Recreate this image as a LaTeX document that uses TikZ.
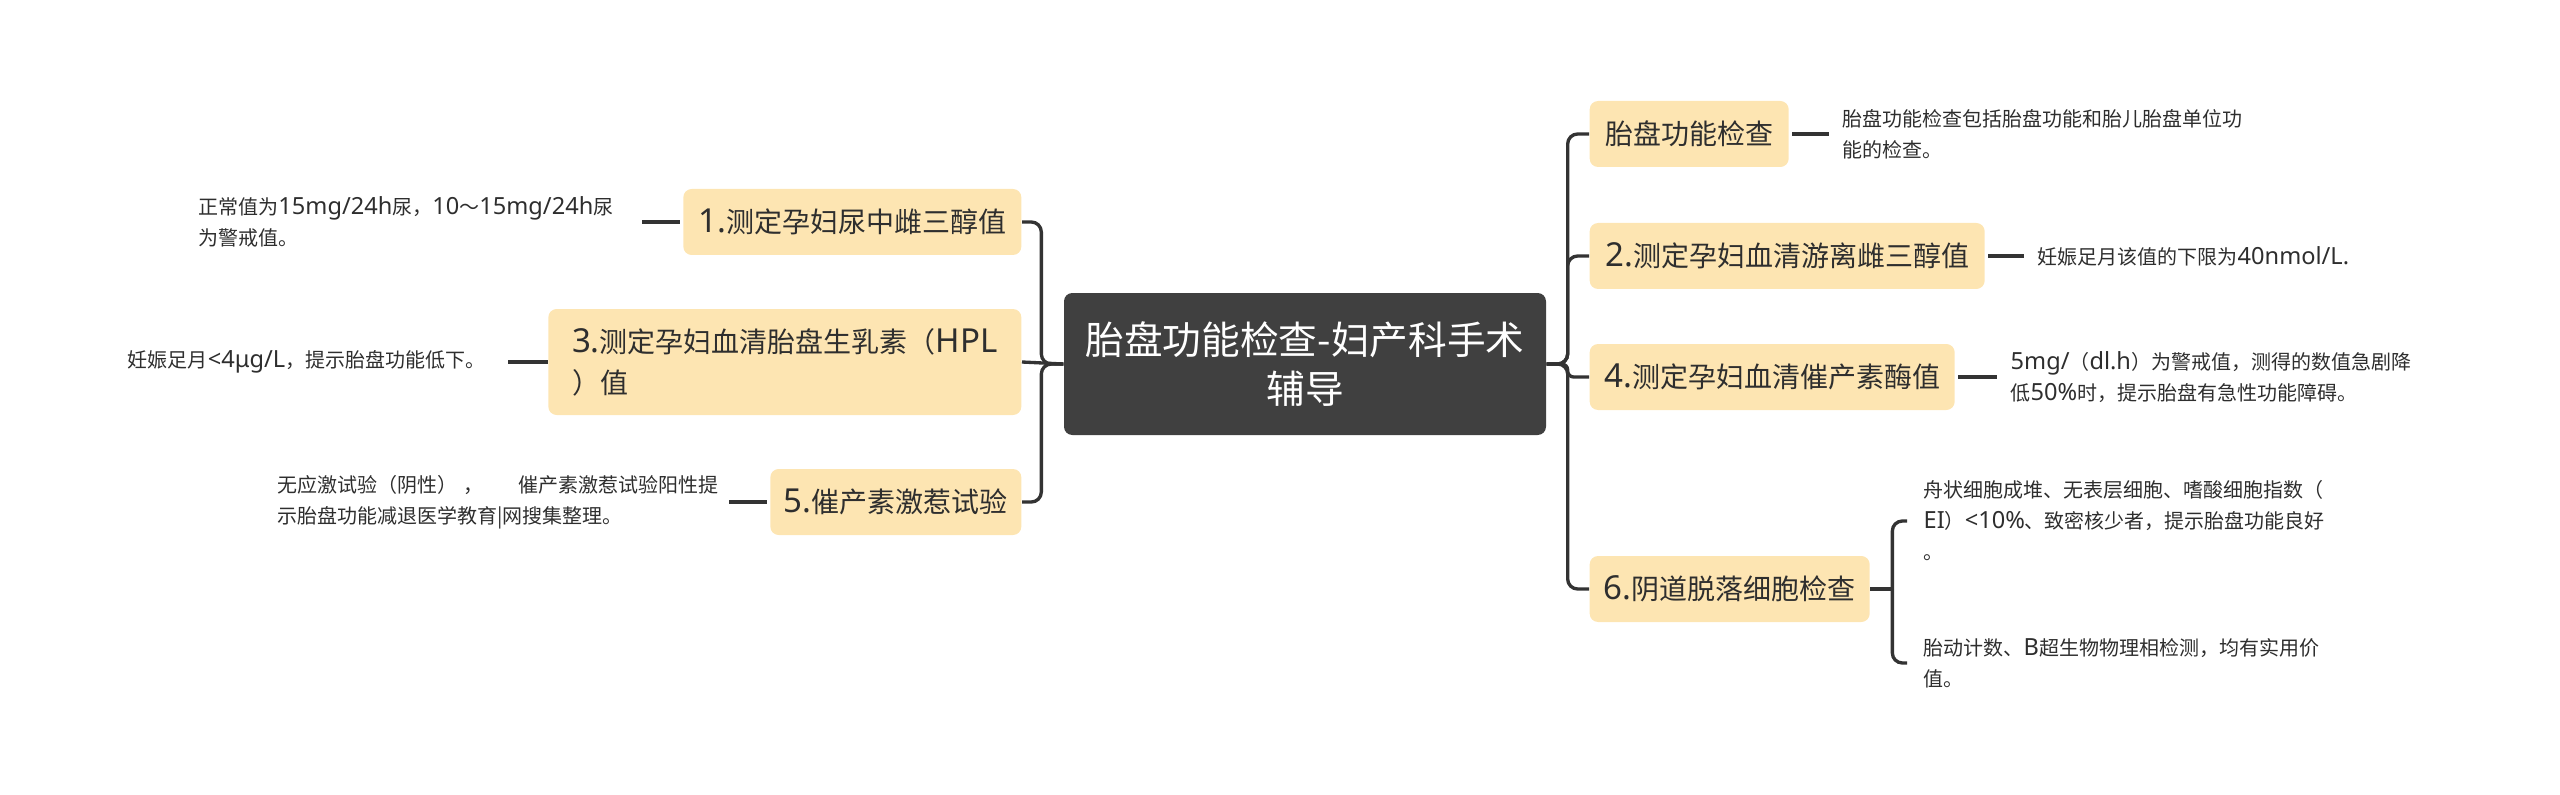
\documentclass[tikz,border=0pt]{standalone}
\usepackage{fontspec}
\newfontfamily\cjk{Noto Sans CJK SC}
\newfontfamily\lat[Scale=1.18]{Noto Sans}
\newcommand{\la}[1]{{\lat #1}}
\usetikzlibrary{calc}
\definecolor{boxfill}{HTML}{FDE5B2}
\definecolor{rootfill}{HTML}{404040}
\definecolor{linec}{HTML}{333333}
\definecolor{txt}{HTML}{2E2E2E}
\begin{document}
\begin{tikzpicture}[x=0.3pt,y=-0.3pt,
  root/.style={rectangle, rounded corners=2.5pt, fill=rootfill, text=white,
    font=\cjk\fontsize{11.6pt}{14.7pt}\selectfont, inner sep=0pt,
    minimum width=144.6pt, minimum height=42.6pt, align=center},
  topic/.style={rectangle, rounded corners=2.5pt, fill=boxfill, text=txt,
    font=\cjk\fontsize{8.4pt}{12.3pt}\selectfont, inner sep=0pt,
    minimum height=19.8pt, align=left},
  leaf/.style={inner sep=0pt, text=txt, font=\cjk\fontsize{6pt}{9.3pt}\selectfont, align=left},
  link/.style={draw=linec, line width=1pt, rounded corners=3pt}]
\useasboundingbox (0,0) rectangle (2560,795);

% root
\node[root] (root) at (1305,364) {胎盘功能检查-妇产科手术\\辅导};

% right topics
\node[topic, anchor=west, minimum width=59.7pt] (r1) at (1589,134) {胎盘功能检查};
\node[topic, anchor=west, minimum width=118.5pt] (r2) at (1589,256) {\la{2.}测定孕妇血清游离雌三醇值};
\node[topic, anchor=west, minimum width=109.5pt] (r4) at (1589,377) {\la{4.}测定孕妇血清催产素酶值};
\node[topic, anchor=west, minimum width=84pt] (r6) at (1589,589) {\la{6.}阴道脱落细胞检查};

% left topics
\node[topic, anchor=east, minimum width=101.4pt] (l1) at (1022,222) {\la{1.}测定孕妇尿中雌三醇值};
\node[topic, anchor=east, minimum width=141.9pt, minimum height=31.8pt] (l3) at (1022,362) {\la{3.}测定孕妇血清胎盘生乳素（\la{HPL}\\）值};
\node[topic, anchor=east, minimum width=75.3pt] (l5) at (1022,502) {\la{5.}催产素激惹试验};

% right leaves
\node[leaf, anchor=west] (t1) at (1842,134) {胎盘功能检查包括胎盘功能和胎儿胎盘单位功\\能的检查。};
\node[leaf, anchor=west] (t2) at (2037,256) {妊娠足月该值的下限为\la{40nmol/L.}};
\node[leaf, anchor=west] (t4) at (2010,377) {\la{5mg/}（\la{dl.h}）为警戒值，测得的数值急剧降\\低\la{50\%}时，提示胎盘有急性功能障碍。};
\node[leaf, anchor=west] (t6a) at (1923,521) {舟状细胞成堆、无表层细胞、嗜酸细胞指数（\\\la{EI}）\la{<10\%}、致密核少者，提示胎盘功能良好\\。};
\node[leaf, anchor=west] (t6b) at (1923,663) {胎动计数、\la{B}超生物物理相检测，均有实用价\\值。};

% left leaves
\node[leaf, anchor=east] (s1) at (614,222) {正常值为\la{15mg/24h}尿，\la{10}～\la{15mg/24h}尿\\为警戒值。};
\node[leaf, anchor=east] (s3) at (486,362) {妊娠足月\la{<4μg/L}，提示胎盘功能低下。};
\node[leaf, anchor=east] (s5) at (719,502) {无应激试验（阴性）\kern0.3em，\kern1.75em催产素激惹试验阳性提\\示胎盘功能减退医学教育|网搜集整理。};

% root to right topics
\draw[link] (root.east) -- ++(21,0) |- (r1.west);
\draw[link] (root.east) -- ++(21,0) |- (r2.west);
\draw[link, rounded corners=1.8pt] (root.east) -- ++(21,0) |- (r4.west);
\draw[link] (root.east) -- ++(21,0) |- (r6.west);

% root to left topics
\draw[link] (root.west) -- ++(-22,0) |- (l1.east);
\draw[link] (root.west) -- (l3.east);
\draw[link] (root.west) -- ++(-22,0) |- (l5.east);

% right leaf connectors
\draw[link] ($(r1.east)+(3,0)$) -- ($(t1.west)+(-13,0)$);
\draw[link] ($(r2.east)+(3,0)$) -- ($(t2.west)+(-13,0)$);
\draw[link] ($(r4.east)+(3,0)$) -- ($(t4.west)+(-13,0)$);
\coordinate (b6) at ($(r6.east)+(22,0)$);
\draw[link] (r6.east) -- (b6);
\draw[link] (b6) |- ($(t6a.west)+(-16,0)$);
\draw[link] (b6) |- ($(t6b.west)+(-16,0)$);

% left leaf connectors
\draw[link] ($(l1.west)+(-3,0)$) -- ($(s1.east)+(28,0)$);
\draw[link] (l3.west) -- ($(s3.east)+(22,0)$);
\draw[link] ($(l5.west)+(-3,0)$) -- ($(s5.east)+(10,0)$);
\end{tikzpicture}
\end{document}
